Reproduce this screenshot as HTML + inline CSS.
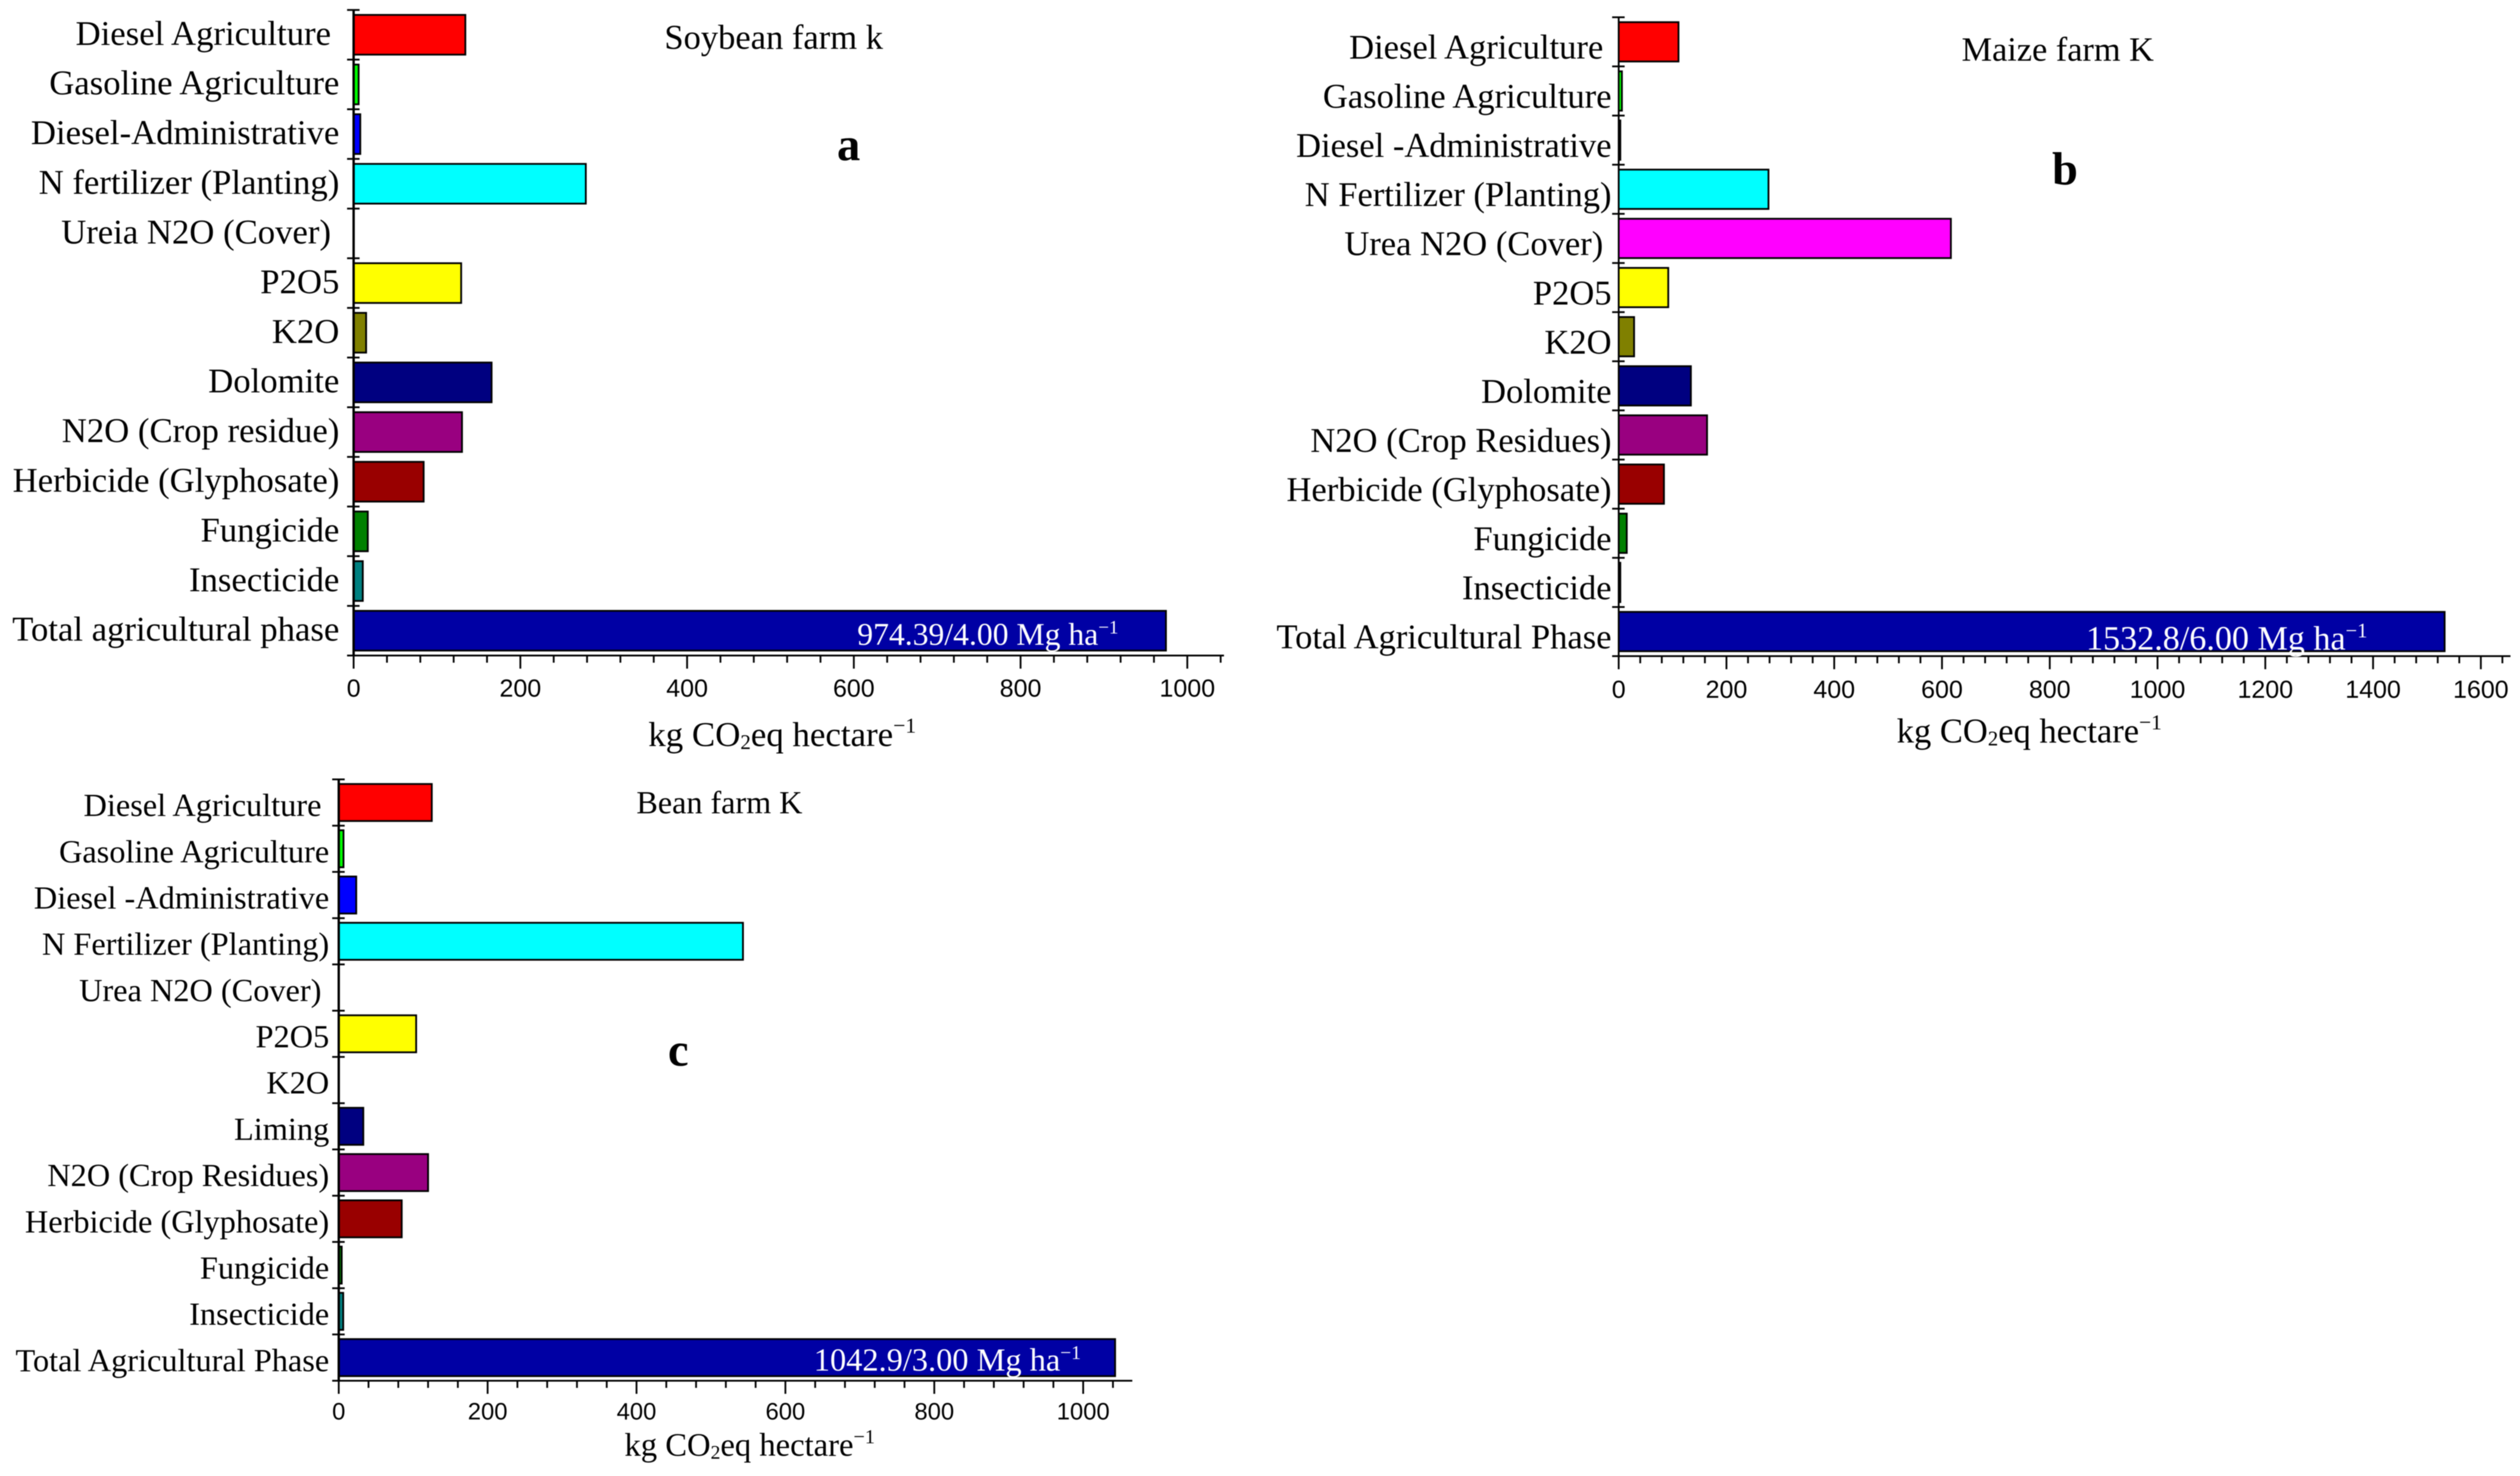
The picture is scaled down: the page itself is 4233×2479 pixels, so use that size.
<!DOCTYPE html>
<html lang="en">
<head>
<meta charset="utf-8">
<title>Agricultural phase emissions by crop</title>
<style>
html,body{margin:0;padding:0;background:#fff;}
body{width:4233px;height:2479px;overflow:hidden;}
svg{display:block;filter:blur(0.7px);}
</style>
</head>
<body>
<svg id="chart" xmlns="http://www.w3.org/2000/svg" width="4233" height="2479" viewBox="0 0 4233 2479">
<rect x="0" y="0" width="4233" height="2479" fill="#ffffff"></rect>
</svg>
<script>
// ---- Data ----
const soybeanCategories = ["Diesel Agriculture","Gasoline Agriculture","Diesel-Administrative","N fertilizer (Planting)","Ureia N2O (Cover)","P2O5","K2O","Dolomite","N2O (Crop residue)","Herbicide (Glyphosate)","Fungicide","Insecticide","Total agricultural phase"];
const soybeanValues = [134,6,8,278.5,0,129,15,165.5,130,84,17,11,974.39];
const soybeanTicks = ["0","200","400","600","800","1000"];

const maizeCategories = ["Diesel Agriculture","Gasoline Agriculture","Diesel -Administrative","N Fertilizer (Planting)","Urea N2O (Cover)","P2O5","K2O","Dolomite","N2O (Crop Residues)","Herbicide (Glyphosate)","Fungicide","Insecticide","Total Agricultural Phase"];
const maizeValues = [111,6,3,278,616.5,92,28.6,134,164,84,15,3,1532.8];
const maizeTicks = ["0","200","400","600","800","1000","1200","1400","1600"];

const beanCategories = ["Diesel Agriculture","Gasoline Agriculture","Diesel -Administrative","N Fertilizer (Planting)","Urea N2O (Cover)","P2O5","K2O","Liming","N2O (Crop Residues)","Herbicide (Glyphosate)","Fungicide","Insecticide","Total Agricultural Phase"];
const beanValues = [125,6.4,23.5,543,0,104,0,33,120,84.6,4,6,1042.9];
const beanTicks = ["0","200","400","600","800","1000"];

// ---- Styling and layout ----
const barColors = ["#ff0000","#00ff00","#0000ff","#00ffff","#ff00ff","#ffff00","#808000","#000080","#990080","#990000","#008000","#008080","#0000a4"];
const SERIF = '"Liberation Serif", serif';
const SANS = '"Liberation Sans", sans-serif';
const svg = document.getElementById('chart');

function make(tag, attrs, parent) {
  const node = document.createElementNS('http://www.w3.org/2000/svg', tag);
  for (const k in attrs) node.setAttribute(k, attrs[k]);
  parent.appendChild(node);
  return node;
}

function drawPanel(p) {
  const g = make('g', {}, svg);
  
  

  // axis functions
  const xScale = v => p.left + (v / p.domainMax) * (p.right - p.left);
  const step = (p.bottom - p.top) / p.categories.length;
  const yCenter = i => p.top + (i + 0.5) * step;

  // bars
  p.values.forEach((v, i) => {
    const bar = make('rect', {
      x: xScale(0), y: yCenter(i) - step * 0.4,
      width: Math.max(0, xScale(v) - xScale(0)), height: step * 0.8,
      fill: barColors[i], stroke: '#000000', 'stroke-width': 3
    }, g);
    
    
  });

  // y axis line
  const yAxis = make('line', {x1: p.left, x2: p.left, y1: p.top, y2: p.bottom, stroke: '#000', 'stroke-width': p.axisWidth}, g);
  
  

  // x axis line
  const xAxis = make('line', {x1: p.left - 10, x2: p.right, y1: p.bottom, y2: p.bottom, stroke: '#000', 'stroke-width': 3}, g);
  
  

  // y ticks and category labels
  for (let i = 0; i <= p.categories.length; i++) {
    const yy = p.top + i * step;
    const t = make('line', {x1: p.left - 11, x2: p.left + 10, y1: yy, y2: yy, stroke: '#000', 'stroke-width': 3}, g);
    
    
  }
  p.categories.forEach((c, i) => {
    const indented = c.startsWith('Diesel Agri') || c.includes('N2O (Cover)');
    const label = make('text', {
      x: p.labelRight - (indented ? p.labelFont * 0.24 : 0), y: yCenter(i) + p.labelFont * 0.29 + p.labelDy,
      'text-anchor': 'end', 'font-family': SERIF, 'font-size': p.labelFont, fill: '#000'
    }, g);
    label.textContent = c;
    
    
  });

  // x ticks and tick labels
  const tickVals = p.ticks.map(Number);
  const majorStep = tickVals[1] - tickVals[0];
  const minorStep = majorStep / 5;
  for (let k = 0; k * minorStep <= p.domainMax; k++) {
    const major = k % 5 === 0;
    const xx = xScale(k * minorStep);
    const t = make('line', {x1: xx, x2: xx, y1: p.bottom, y2: p.bottom + (major ? 22 : 12), stroke: '#000', 'stroke-width': 3}, g);
    
    
  }
  p.ticks.forEach(label => {
    const tl = make('text', {
      x: xScale(Number(label)), y: p.tickBaseline, 'text-anchor': 'middle',
      'font-family': SANS, 'font-size': p.tickFont, fill: '#000'
    }, g);
    tl.textContent = label;
    
    
  });

  // axis title
  const at = make('text', {x: p.axisTitleX, y: p.axisTitleY, 'font-family': SERIF, 'font-size': p.axisTitleFont, fill: '#000'}, g);
  
  
  make('tspan', {}, at).textContent = 'kg CO';
  make('tspan', {'font-size': p.axisTitleFont * 0.6, dy: 5}, at).textContent = '2';
  make('tspan', {dy: -5}, at).textContent = 'eq hectare';
  make('tspan', {'font-size': p.axisTitleFont * 0.62, dy: -p.axisTitleFont * 0.38}, at).textContent = '\u22121';

  // panel title
  const title = make('text', {x: p.titleX, y: p.titleY, 'font-family': SERIF, 'font-size': p.titleFont, fill: '#000'}, g);
  title.textContent = p.title;
  
  

  // panel letter
  const letter = make('text', {x: p.letterX, y: p.letterY, 'font-family': SERIF, 'font-size': 78, 'font-weight': 'bold', fill: '#000'}, g);
  letter.textContent = p.letter;
  
  

  // total annotation
  const note = make('text', {x: p.noteX, y: p.noteY, 'font-family': SERIF, 'font-size': p.noteFont, fill: '#ffffff'}, g);
  
  
  make('tspan', {}, note).textContent = p.note;
  make('tspan', {'font-size': p.noteFont * 0.6, dy: -p.noteFont * 0.36}, note).textContent = '\u22121';
}

drawPanel({
  id: 'soybean', title: 'Soybean farm k', letter: 'a', note: '974.39/4.00 Mg ha',
  categories: soybeanCategories, values: soybeanValues, ticks: soybeanTicks,
  domainMax: 1044, left: 594, right: 2056, top: 16.7, bottom: 1101,
  axisWidth: 4, labelRight: 570, labelFont: 58.3, labelDy: 0, titleFont: 58, tickFont: 42, tickBaseline: 1170,
  axisTitleX: 1089, axisTitleY: 1253, axisTitleFont: 58.6,
  titleX: 1116, titleY: 82, letterX: 1406, letterY: 269,
  noteX: 1440, noteY: 1083, noteFont: 53.2
});

drawPanel({
  id: 'maize', title: 'Maize farm K', letter: 'b', note: '1532.8/6.00 Mg ha',
  categories: maizeCategories, values: maizeValues, ticks: maizeTicks,
  domainMax: 1655, left: 2719, right: 4217, top: 29, bottom: 1102,
  axisWidth: 3, labelRight: 2707, labelFont: 58, labelDy: 11.5, titleFont: 57.6, tickFont: 42, tickBaseline: 1172,
  axisTitleX: 3186, axisTitleY: 1247, axisTitleFont: 58,
  titleX: 3295, titleY: 102, letterX: 3447, letterY: 310,
  noteX: 3504, noteY: 1091, noteFont: 57.3
});

drawPanel({
  id: 'bean', title: 'Bean farm K', letter: 'c', note: '1042.9/3.00 Mg ha',
  categories: beanCategories, values: beanValues, ticks: beanTicks,
  domainMax: 1066, left: 569, right: 1902, top: 1309, bottom: 2319,
  axisWidth: 4, labelRight: 553, labelFont: 54.3, labelDy: 7, titleFont: 54, tickFont: 40, tickBaseline: 2384,
  axisTitleX: 1049, axisTitleY: 2445, axisTitleFont: 54.8,
  titleX: 1069, titleY: 1366, letterX: 1122, letterY: 1790,
  noteX: 1367, noteY: 2302, noteFont: 54.4
});
</script>
</body>
</html>
